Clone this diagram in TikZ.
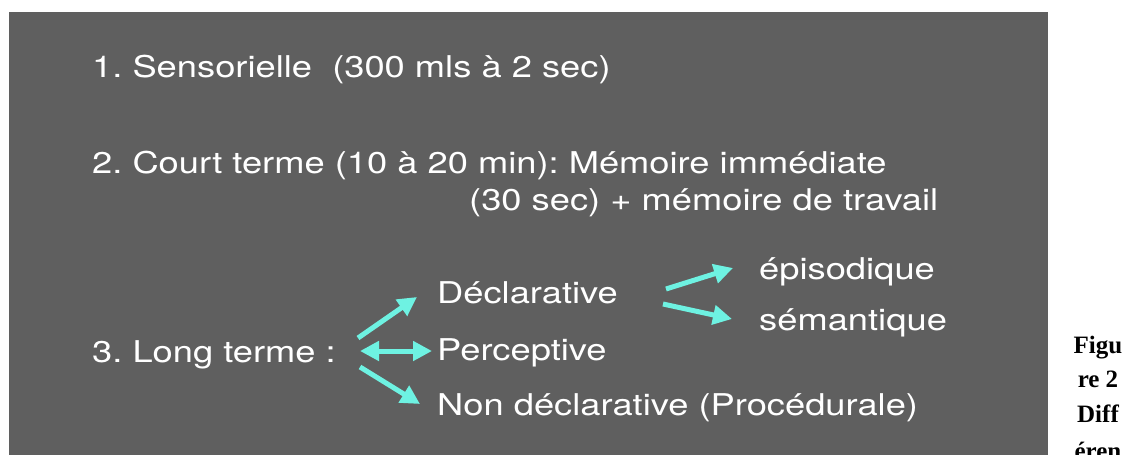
\documentclass[tikz,border=0pt]{standalone}
\usepackage{fontspec}
\setmainfont{TeX Gyre Heros}
\newfontfamily\slidefont[FakeStretch=1.21]{TeX Gyre Heros}
\newfontfamily\capfont{Liberation Serif}
\usetikzlibrary{arrows.meta,calc}
\frenchspacing
\definecolor{slide}{RGB}{95,95,95}
\definecolor{aqua}{RGB}{110,242,226}
\tikzset{
  txt/.style={anchor=base west,inner sep=0pt,text=white,font=\slidefont\fontsize{30}{30}\selectfont},
  captxt/.style={anchor=base,inner sep=0pt,font=\capfont\bfseries\fontsize{25}{25}\selectfont},
  arr/.style={draw=aqua,line width=5pt,-{Triangle[length=19pt,width=19pt]}},
  darr/.style={draw=aqua,line width=5pt,{Triangle[length=19pt,width=19pt]}-{Triangle[length=19pt,width=19pt]}}
}
\begin{document}
\begin{tikzpicture}[x=1pt,y=-1pt]
\useasboundingbox (0,0) rectangle (1127,455);
\clip (0,0) rectangle (1127,455);
\fill[white] (0,0) rectangle (1127,455);
\fill[slide] (9,12) rectangle (1048,460);
\node[txt] (s1) at (92,77) {1. Sensorielle\ \ (300 mls à 2 sec)};
\node[txt] (s2) at (92,173) {2. Court terme (10 à 20 min): Mémoire immédiate};
\node[txt] (s2b) at (469,210) {(30 sec) + mémoire de travail};
\node[txt] (lt) at (92,362) {3. Long terme :};
\node[txt] (decl) at (437,303) {Déclarative};
\node[txt] (perc) at (437,360) {Perceptive};
\node[txt] (nond) at (437,415) {Non déclarative (Procédurale)};
\node[txt] (epi) at (759,279) {épisodique};
\node[txt] (sem) at (759,330) {sémantique};
\coordinate (a1s) at (358,338);
\coordinate (a1e) at (417,297);
\coordinate (a2s) at (360,351);
\coordinate (a2e) at (432,351);
\coordinate (a3s) at (360,367);
\coordinate (a3e) at (420,404);
\coordinate (b1s) at (666,289);
\coordinate (b1e) at (733,268);
\coordinate (b2s) at (663,304);
\coordinate (b2e) at (732,319);
\draw[arr] (a1s) -- (a1e);
\draw[darr] (a2s) -- (a2e);
\draw[arr] (a3s) -- (a3e);
\draw[arr] (b1s) -- (b1e);
\draw[arr] (b2s) -- (b2e);
\node[captxt] (f1) at (1098,353) {Figu};
\node[captxt] (f2) at (1098,387) {re 2};
\node[captxt] (f3) at (1098,422) {Diff};
\node[captxt] (f4) at (1098,459) {éren};
\end{tikzpicture}
\end{document}
